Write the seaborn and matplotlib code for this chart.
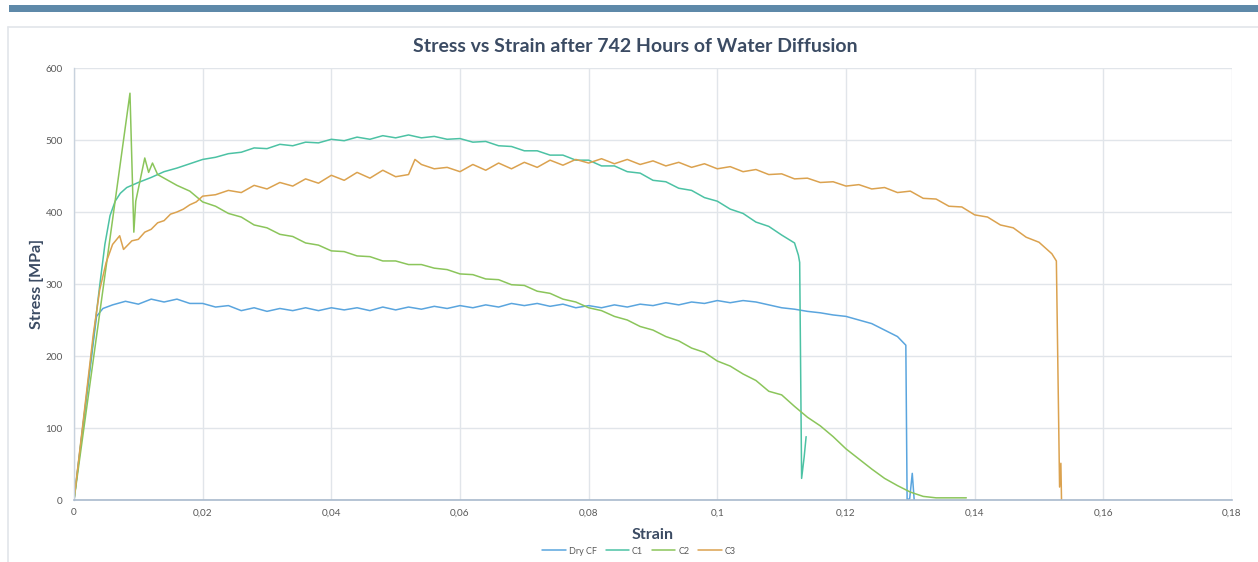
import matplotlib
matplotlib.use("Agg")
import matplotlib.pyplot as plt
from matplotlib.patches import Rectangle
from matplotlib.lines import Line2D
from matplotlib.ticker import FuncFormatter
import pandas as pd
import seaborn as sns

# ---- measured stress-strain data -------------------------------------------
dry_strain = [0, 0.0035, 0.0045, 0.006, 0.008, 0.010, 0.012, 0.014, 0.016, 0.018,
              0.020, 0.022, 0.024, 0.026, 0.028, 0.030, 0.032, 0.034, 0.036, 0.038,
              0.040, 0.042, 0.044, 0.046, 0.048, 0.050, 0.052, 0.054, 0.056, 0.058,
              0.060, 0.062, 0.064, 0.066, 0.068, 0.070, 0.072, 0.074, 0.076, 0.078,
              0.080, 0.082, 0.084, 0.086, 0.088, 0.090, 0.092, 0.094, 0.096, 0.098,
              0.100, 0.102, 0.104, 0.106, 0.108, 0.110, 0.112, 0.114, 0.116, 0.118,
              0.120, 0.122, 0.124, 0.126, 0.128, 0.1293, 0.1295, 0.1299, 0.1303, 0.1306]
dry_stress = [0, 255, 266, 271, 276, 272, 279, 275, 279, 273,
              273, 268, 270, 263, 267, 262, 266, 263, 267, 263,
              267, 264, 267, 263, 268, 264, 268, 265, 269, 266,
              270, 267, 271, 268, 273, 270, 273, 269, 272, 267,
              270, 267, 271, 268, 272, 270, 274, 271, 275, 273,
              277, 274, 277, 275, 271, 267, 265, 262, 260, 257,
              255, 250, 245, 236, 227, 215, 0, 2, 37, 0]

c1_strain = [0, 0.004, 0.0048, 0.0056, 0.0064, 0.0072, 0.0082, 0.010, 0.012, 0.014,
             0.016, 0.018,
             0.020, 0.022, 0.024, 0.026, 0.028, 0.030, 0.032, 0.034, 0.036, 0.038,
             0.040, 0.042, 0.044, 0.046, 0.048, 0.050, 0.052, 0.054, 0.056, 0.058,
             0.060, 0.062, 0.064, 0.066, 0.068, 0.070, 0.072, 0.074, 0.076, 0.078,
             0.080, 0.082, 0.084, 0.086, 0.088, 0.090, 0.092, 0.094, 0.096, 0.098,
             0.100, 0.102, 0.104, 0.106, 0.108, 0.110, 0.112, 0.1126, 0.1128, 0.1131,
             0.1135, 0.1138]
c1_stress = [0, 298, 355, 395, 415, 426, 434, 441, 448, 456,
             461, 467,
             473, 476, 481, 483, 489, 488, 494, 492, 497, 496,
             501, 499, 504, 501, 506, 503, 507, 503, 505, 501,
             502, 497, 498, 492, 491, 485, 485, 479, 479, 472,
             472, 464, 464, 456, 454, 444, 442, 433, 430, 420,
             415, 404, 398, 386, 380, 368, 357, 340, 330, 30,
             60, 88]

c2_strain = [0, 0.0087, 0.0093, 0.0096, 0.0110, 0.0116, 0.0122, 0.0130, 0.014, 0.016,
             0.018, 0.020, 0.022, 0.024, 0.026, 0.028, 0.030, 0.032, 0.034, 0.036,
             0.038, 0.040, 0.042, 0.044, 0.046, 0.048, 0.050, 0.052, 0.054, 0.056,
             0.058, 0.060, 0.062, 0.064, 0.066, 0.068, 0.070, 0.072, 0.074, 0.076,
             0.078, 0.080, 0.082, 0.084, 0.086, 0.088, 0.090, 0.092, 0.094, 0.096,
             0.098, 0.100, 0.102, 0.104, 0.106, 0.108, 0.110, 0.112, 0.114, 0.116,
             0.118, 0.120, 0.122, 0.124, 0.126, 0.128, 0.130, 0.132, 0.134, 0.1387]
c2_stress = [0, 565, 372, 415, 475, 455, 468, 452, 447, 437,
             429, 414, 408, 398, 393, 382, 378, 369, 366, 357,
             354, 346, 345, 339, 338, 332, 332, 327, 327, 322,
             320, 314, 313, 307, 306, 299, 298, 290, 287, 279,
             275, 267, 263, 255, 250, 241, 236, 227, 221, 211,
             205, 193, 186, 175, 166, 151, 146, 130, 115, 103,
             88, 71, 57, 43, 30, 20, 11, 5, 3, 3]

c3_strain = [0, 0.003, 0.004, 0.005, 0.006, 0.0071, 0.0077, 0.009, 0.010, 0.011,
             0.012, 0.013, 0.014, 0.015, 0.016, 0.017, 0.018, 0.019, 0.020, 0.022,
             0.024, 0.026, 0.028, 0.030, 0.032, 0.034, 0.036, 0.038, 0.040, 0.042,
             0.044, 0.046, 0.048, 0.050, 0.052, 0.053, 0.054, 0.056, 0.058, 0.060,
             0.062, 0.064, 0.066, 0.068, 0.070, 0.072, 0.074, 0.076, 0.078, 0.080,
             0.082, 0.084, 0.086, 0.088, 0.090, 0.092, 0.094, 0.096, 0.098, 0.100,
             0.102, 0.104, 0.106, 0.108, 0.110, 0.112, 0.114, 0.116, 0.118, 0.120,
             0.122, 0.124, 0.126, 0.128, 0.130, 0.132, 0.134, 0.136, 0.138, 0.140,
             0.142, 0.144, 0.146, 0.148, 0.150, 0.152, 0.1527, 0.1532, 0.1534, 0.1535]
c3_stress = [0, 230, 292, 330, 355, 367, 348, 360, 362, 372,
             376, 385, 388, 397, 400, 404, 410, 414, 422, 424,
             430, 427, 437, 432, 441, 436, 446, 440, 451, 444,
             455, 447, 458, 449, 452, 473, 466, 460, 462, 456,
             466, 458, 468, 460, 469, 462, 472, 465, 473, 468,
             474, 467, 473, 466, 471, 464, 469, 462, 467, 460,
             463, 456, 459, 452, 453, 446, 447, 441, 442, 436,
             438, 432, 434, 427, 429, 419, 418, 408, 407, 396,
             393, 382, 378, 365, 358, 342, 332, 18, 51, 0]

series_names = ["Dry CF", "C1", "C2", "C3"]
series_colors = ["#5aa5de", "#4cc2a4", "#8bc55b", "#dba24f"]
x_ticks = [0, 0.02, 0.04, 0.06, 0.08, 0.10, 0.12, 0.14, 0.16, 0.18]
y_ticks = [0, 100, 200, 300, 400, 500, 600]

# ---- long-form table for seaborn -------------------------------------------
frames = []
for name, xs, ys in zip(series_names,
                        [dry_strain, c1_strain, c2_strain, c3_strain],
                        [dry_stress, c1_stress, c2_stress, c3_stress]):
    frames.append(pd.DataFrame({"Strain": xs, "Stress": ys, "Series": name}))
df = pd.concat(frames, ignore_index=True)

sns.set_theme(style="white")
plt.rcParams["font.family"] = ["Lato", "DejaVu Sans"]

W, H = 1258, 562
fig = plt.figure(figsize=(W / 100, H / 100), dpi=100)
fig.patch.set_facecolor("white")

# header band and panel frame
fig.patches.append(Rectangle((9 / W, 1 - 12 / H), 1 - 9 / W, 7 / H,
                             transform=fig.transFigure, facecolor="#5e89a9",
                             edgecolor="none", zorder=0))
fig.lines.append(Line2D([8 / W, 1], [1 - 27 / H, 1 - 27 / H],
                        transform=fig.transFigure, color="#e2e5ea", lw=1.2))
fig.lines.append(Line2D([8 / W, 8 / W], [0, 1 - 27 / H],
                        transform=fig.transFigure, color="#e2e5ea", lw=1.2))

ax = fig.add_axes([74 / W, 1 - 500 / H, (1232 - 74) / W, (500 - 68) / H])

sns.lineplot(data=df, x="Strain", y="Stress", hue="Series",
             hue_order=series_names, palette=series_colors,
             sort=False, estimator=None, units="Series", linewidth=1.1,
             legend=False, ax=ax)

ax.set_xlim(0, 0.18)
ax.set_ylim(0, 600)
ax.set_xticks(x_ticks)
ax.set_yticks(y_ticks)
ax.xaxis.set_major_formatter(FuncFormatter(lambda v, p: f"{v:g}".replace(".", ",")))
ax.yaxis.set_major_formatter(FuncFormatter(lambda v, p: f"{v:g}"))
ax.grid(True, color="#e1e5ea", linewidth=1.0)
ax.set_axisbelow(True)
for side in ["top", "right"]:
    ax.spines[side].set_visible(False)
ax.spines["left"].set_color("#c8d2dd")
ax.spines["bottom"].set_color("#a9bacd")
ax.spines["left"].set_linewidth(1.0)
ax.spines["bottom"].set_linewidth(1.2)
ax.tick_params(axis="both", length=0, labelsize=7.2, labelcolor="#595959")
ax.tick_params(axis="x", pad=6)
ax.tick_params(axis="y", pad=8)

ax.set_xlabel("Strain", fontsize=11.5, fontweight="bold", color="#3b4b63", labelpad=8)
ax.set_ylabel("Stress [MPa]", fontsize=11.5, fontweight="bold", color="#3b4b63")
ax.yaxis.set_label_coords(-0.026, 0.5)

fig.text(0.505, 1 - 47 / H, "Stress vs Strain after 742 Hours of Water Diffusion",
         ha="center", va="center", fontsize=14, fontweight="bold", color="#3b4b63")

handles = [Line2D([0], [0], color=c, lw=1.1) for c in series_colors]
fig.legend(handles, series_names, loc="center", bbox_to_anchor=(0.508, 1 - 551 / H),
           ncol=4, frameon=False, fontsize=6.5, handlelength=2.6, handletextpad=0.3,
           columnspacing=1.0, labelcolor="#595959")

fig.savefig("out.png", dpi=100, facecolor="white")
